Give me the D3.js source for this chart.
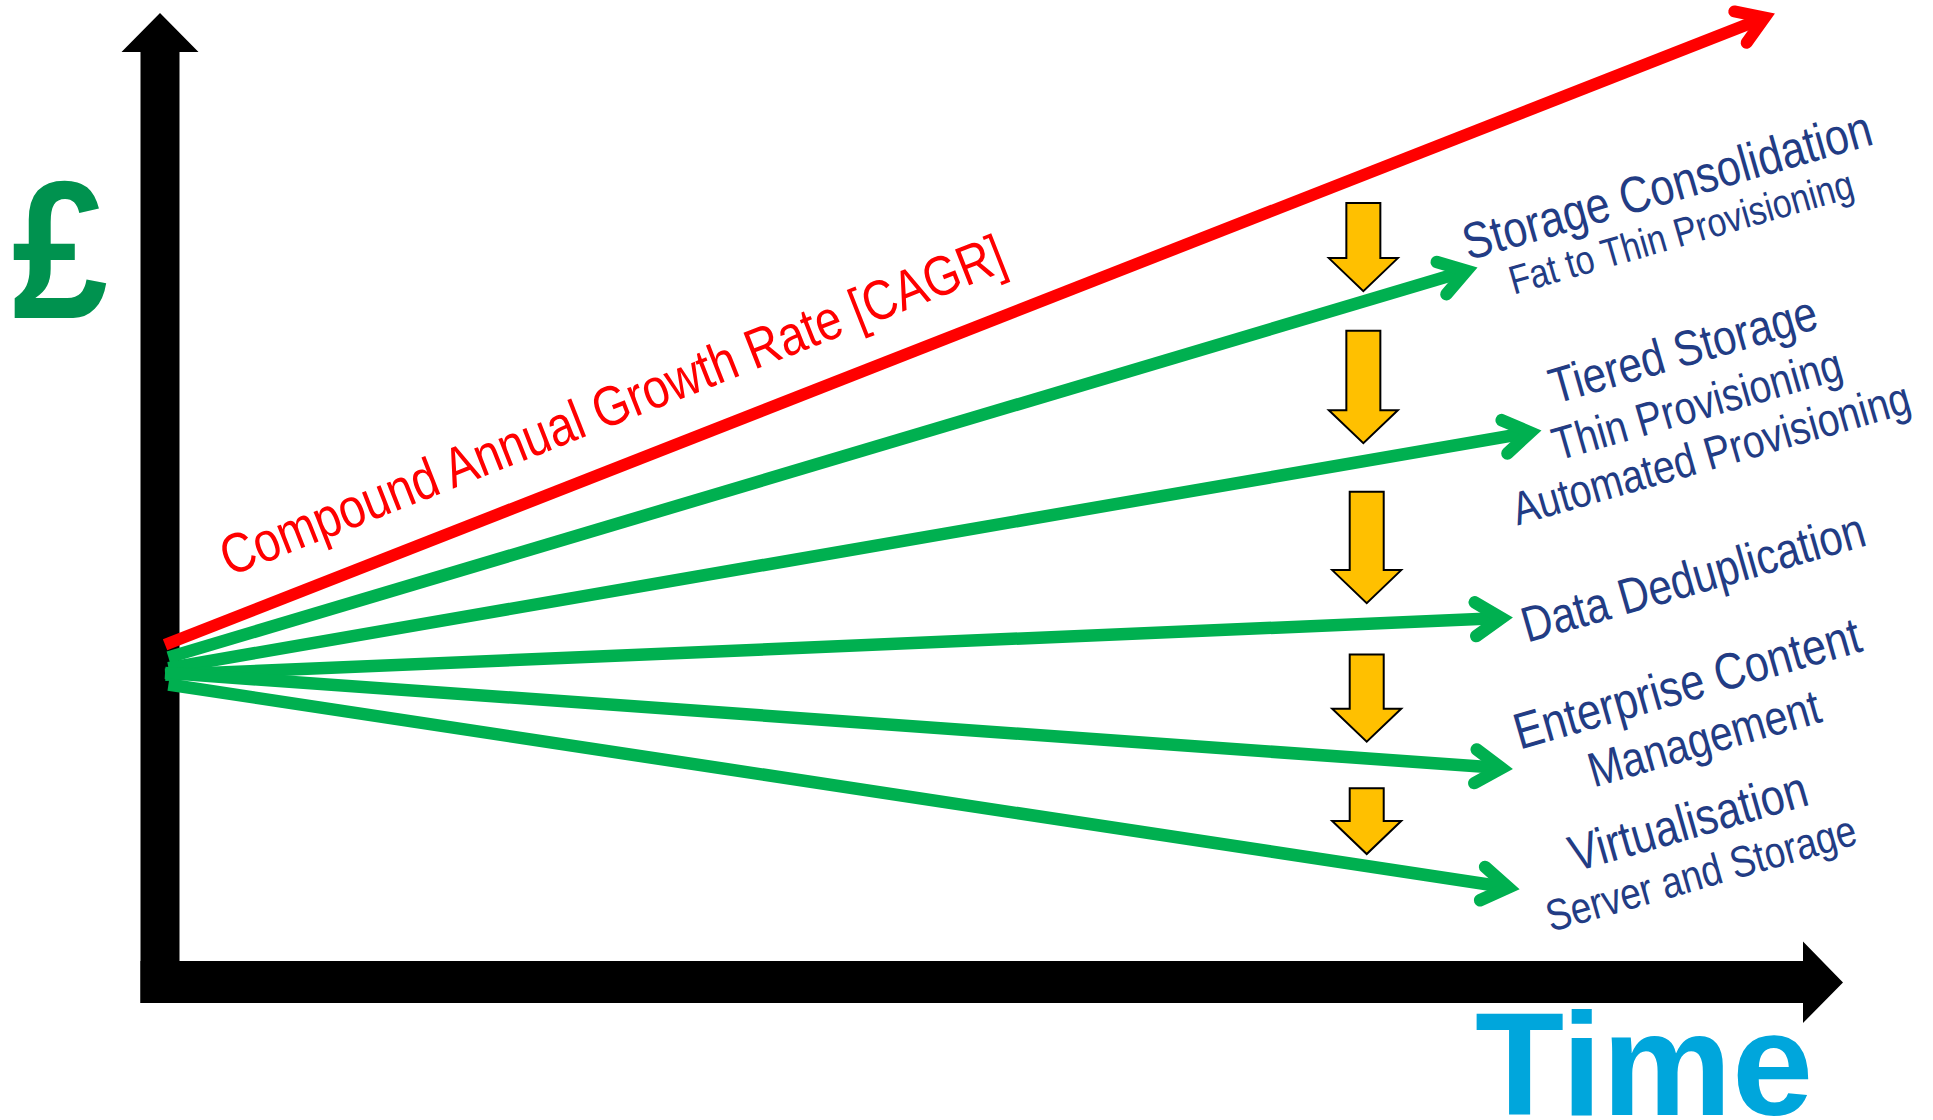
<!DOCTYPE html>
<html>
<head>
<meta charset="utf-8">
<script src="https://cdn.jsdelivr.net/npm/d3@7/dist/d3.min.js"></script>
<style>
  html, body { margin: 0; padding: 0; background: #ffffff; }
  svg { display: block; }
  text { font-family: "Liberation Sans", Arial, Helvetica, sans-serif; }
</style>
</head>
<body>
<svg id="chart" width="1933" height="1120"></svg>
<script>
// ---------------- DATA ----------------
const categories = ["Storage Consolidation", "Tiered Storage", "Data Deduplication",
                    "Enterprise Content Management", "Virtualisation"];
const labelLines = [
  ["Storage Consolidation", "Fat to Thin Provisioning"],
  ["Tiered Storage", "Thin Provisioning", "Automated Provisioning"],
  ["Data Deduplication"],
  ["Enterprise Content", "Management"],
  ["Virtualisation", "Server and Storage"]
];
// cost index at time 0 and at the arrow tip (time, cost)
const startCost = [33.5, 32.4, 31.7, 31.9, 30.7];
const startTime = [0.5, 0.5, 0.3, 0.3, 0.5];
const endTime   = [78.2, 82.0, 80.3, 80.3, 80.7];
const endCost   = [73.7, 56.9, 37.6, 22.0, 9.6];
// Compound annual growth rate line
const cagrTime = [0.3, 95.9];
const cagrCost = [34.8, 99.9];
const cagrLabel = "Compound Annual Growth Rate [CAGR]";
// reduction (down) arrows between successive lines
const reductionTime   = [71.5, 71.5, 71.7, 71.7, 71.7];
const reductionTop    = [80.4, 67.2, 50.6, 33.8, 20.0];
const reductionBottom = [71.3, 55.6, 39.1, 24.8, 13.2];
const yAxisTitle = "£";
const xAxisTitle = "Time";

// ---------------- LAYOUT ----------------
const W = 1933, H = 1120;
const x = d3.scaleLinear().domain([0, 100]).range([160, 1843]);
const y = d3.scaleLinear().domain([0, 100]).range([982, 13]);

const labelLayout = [
  [{cx: 1667, cy: 185, size: 43}, {cx: 1681, cy: 232, size: 34}],
  [{cx: 1683, cy: 349, size: 42}, {cx: 1697, cy: 404, size: 39}, {cx: 1711, cy: 453, size: 39}],
  [{cx: 1693, cy: 577, size: 42}],
  [{cx: 1687, cy: 683, size: 43}, {cx: 1704, cy: 738, size: 41}],
  [{cx: 1688, cy: 821, size: 43}, {cx: 1701, cy: 873, size: 37}]
];
const labelAngle = -16;
const narrow = 0.84;   // condensed lettering

const svg = d3.select("#chart");
const GREEN = "#00B050", RED = "#FF0000", YELLOW = "#FFC000", NAVY = "#223C84";

// ---------------- AXES ----------------
const shaftW = 39, barH = 42;
const x0 = x(0), y0 = y(0);
const yTop = y(100), xEnd = x(100);
svg.append("path")
  .attr("d", d3.line()([
    [x0 - shaftW / 2, y0 + barH / 2],
    [x0 - shaftW / 2, yTop + 39],
    [x0 - 38.5, yTop + 39],
    [x0, yTop],
    [x0 + 38.5, yTop + 39],
    [x0 + shaftW / 2, yTop + 39],
    [x0 + shaftW / 2, y0 + barH / 2]
  ]) + "Z")
  .attr("fill", "#000");
svg.append("path")
  .attr("d", d3.line()([
    [x0 - shaftW / 2, y0 - barH / 2],
    [xEnd - 40, y0 - barH / 2],
    [xEnd - 40, y0 - 40.5],
    [xEnd, y0 + 0.5],
    [xEnd - 40, y0 + 41],
    [xEnd - 40, y0 + barH / 2],
    [x0 - shaftW / 2, y0 + barH / 2]
  ]) + "Z")
  .attr("fill", "#000");

// axis titles
svg.append("text")
  .attr("transform", "translate(12,318) scale(0.88,1)")
  .attr("font-size", 196).attr("font-weight", "bold")
  .attr("fill", "#00924F")
  .text(yAxisTitle);
svg.append("text")
  .attr("x", 1475).attr("y", 1115)
  .attr("font-size", 146).attr("font-weight", "bold")
  .attr("fill", "#00A6DC")
  .text(xAxisTitle);

// ---------------- ARROWS ----------------
function arrowHead(tip, dir, back, len, half) {
  const v = [tip[0] - dir[0] * back, tip[1] - dir[1] * back];
  const b = [-dir[0], -dir[1]];
  const rot = (a) => [b[0] * Math.cos(a) - b[1] * Math.sin(a), b[0] * Math.sin(a) + b[1] * Math.cos(a)];
  const r1 = rot(half), r2 = rot(-half);
  return {v, a1: [v[0] + r1[0] * len, v[1] + r1[1] * len], a2: [v[0] + r2[0] * len, v[1] + r2[1] * len]};
}

function drawArrow(p0, p1, color, width) {
  const dx = p1[0] - p0[0], dy = p1[1] - p0[1];
  const L = Math.hypot(dx, dy);
  const dir = [dx / L, dy / L];
  const head = arrowHead(p1, dir, 10, 31, 33 * Math.PI / 180);
  const g = svg.append("g");
  g.append("path")
    .attr("d", d3.line()([p0, head.v]))
    .attr("stroke", color).attr("stroke-width", width)
    .attr("fill", "none").attr("stroke-linecap", "butt");
  g.append("path")
    .attr("d", d3.line()([head.a1, head.v, head.a2]))
    .attr("stroke", color).attr("stroke-width", width)
    .attr("fill", "none").attr("stroke-linecap", "round")
    .attr("stroke-linejoin", "miter").attr("stroke-miterlimit", 10);
}

categories.forEach((c, i) => {
  drawArrow([x(startTime[i]), y(startCost[i])], [x(endTime[i]), y(endCost[i])], GREEN, 12.5);
});
drawArrow([x(cagrTime[0]), y(cagrCost[0])], [x(cagrTime[1]), y(cagrCost[1])], RED, 12);

// ---------------- REDUCTION ARROWS ----------------
const shaftHalf = 17, headHalf = 34.5, headH = 33;
reductionTime.forEach((t, i) => {
  const cx = x(t), top = y(reductionTop[i]), tip = y(reductionBottom[i]);
  const hb = tip - headH;
  svg.append("path")
    .attr("d", d3.line()([
      [cx - shaftHalf, top], [cx + shaftHalf, top], [cx + shaftHalf, hb],
      [cx + headHalf, hb], [cx, tip], [cx - headHalf, hb], [cx - shaftHalf, hb]
    ]) + "Z")
    .attr("fill", YELLOW).attr("stroke", "#000").attr("stroke-width", 2)
    .attr("stroke-linejoin", "miter");
});

// ---------------- LABELS ----------------
labelLines.forEach((lines, i) => {
  lines.forEach((txt, j) => {
    const l = labelLayout[i][j];
    svg.append("text")
      .attr("transform", `translate(${l.cx},${l.cy}) rotate(${labelAngle}) scale(${narrow},1)`)
      .attr("text-anchor", "middle").attr("dy", "0.35em")
      .attr("font-size", l.size / narrow).attr("fill", NAVY)
      .text(txt);
  });
});

svg.append("text")
  .attr("transform", `translate(612,405) rotate(-21.5) scale(${narrow},1)`)
  .attr("text-anchor", "middle").attr("dy", "0.35em")
  .attr("font-size", 47 / narrow).attr("fill", RED)
  .text(cagrLabel);
</script>
</body>
</html>
